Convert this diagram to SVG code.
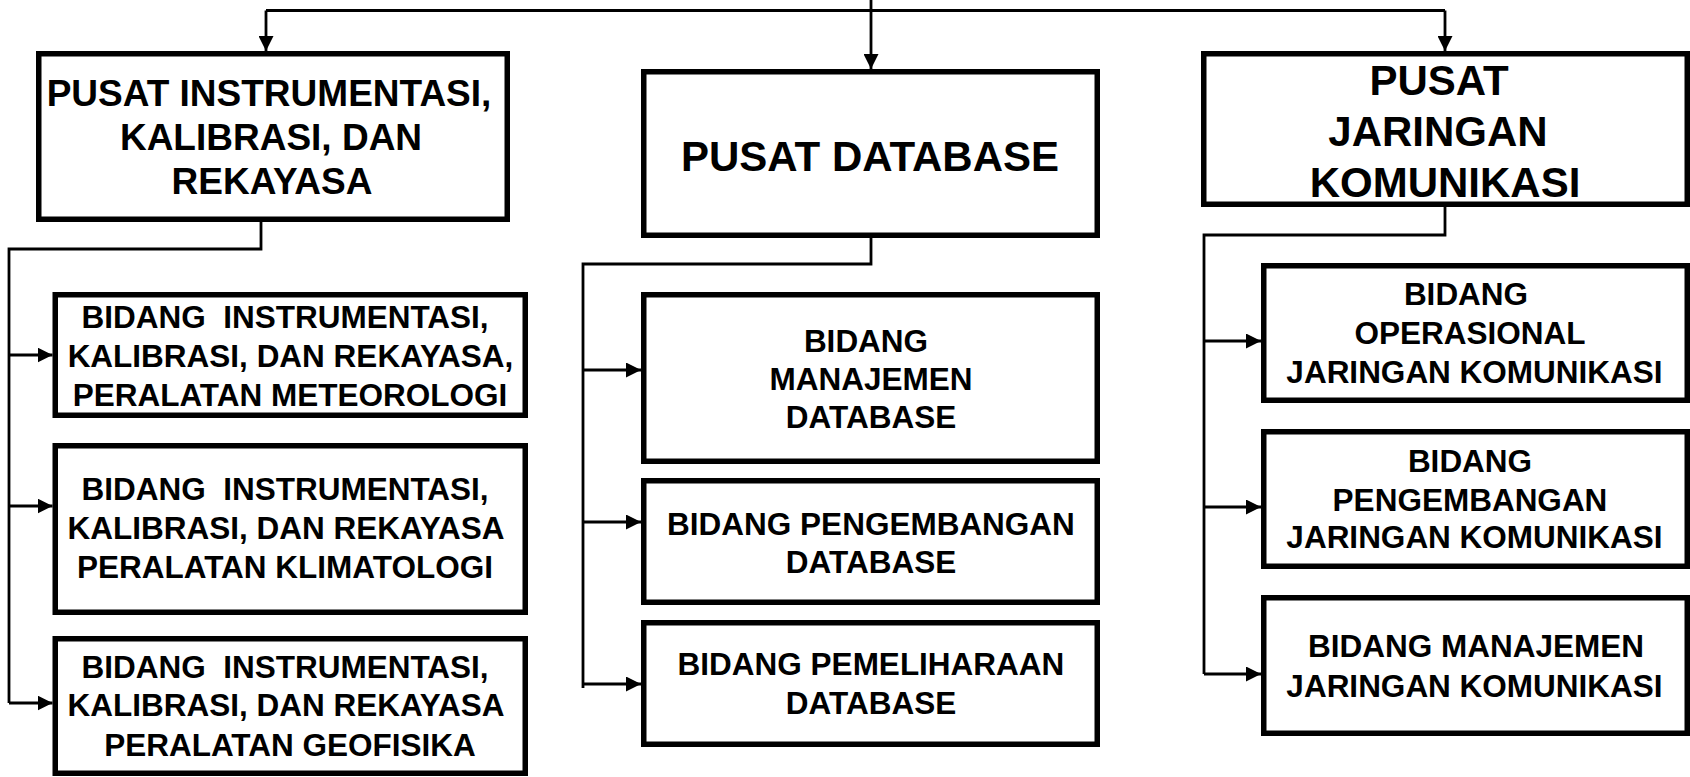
<svg xmlns="http://www.w3.org/2000/svg" width="1690" height="777" viewBox="0 0 1690 777">
<style>
.box{fill:#fff;stroke:#000;stroke-width:5.5}
.t{font-family:"Liberation Sans",Arial,sans-serif;font-weight:bold;text-anchor:middle;fill:#000;white-space:pre}
.s{font-size:31.5px}
.c{fill:none;stroke:#000;stroke-width:2.8}
</style>
<defs>
<marker id="ah" markerUnits="userSpaceOnUse" markerWidth="15" markerHeight="15" refX="15" refY="7.5" orient="auto">
<path d="M0,0 L15,7.5 L0,15 z" fill="#000"/>
</marker>
</defs>
<rect width="1690" height="777" fill="#fff"/>
<g id="connectors">
<path class="c" d="M871,0 V69" marker-end="url(#ah)"/>
<path class="c" d="M266,10.5 H1445"/>
<path class="c" d="M266,10.5 V51" marker-end="url(#ah)"/>
<path class="c" d="M1445,10.5 V51" marker-end="url(#ah)"/>
<path class="c" d="M261,222 V249 H9 V703"/>
<path class="c" d="M9,355 H52.5" marker-end="url(#ah)"/>
<path class="c" d="M9,506 H52.5" marker-end="url(#ah)"/>
<path class="c" d="M9,703 H52.5" marker-end="url(#ah)"/>
<path class="c" d="M871,238 V264 H583 V688"/>
<path class="c" d="M583,370 H641" marker-end="url(#ah)"/>
<path class="c" d="M583,522 H641" marker-end="url(#ah)"/>
<path class="c" d="M583,684 H641" marker-end="url(#ah)"/>
<path class="c" d="M1445,207 V235 H1204 V674"/>
<path class="c" d="M1204,341 H1261" marker-end="url(#ah)"/>
<path class="c" d="M1204,507 H1261" marker-end="url(#ah)"/>
<path class="c" d="M1204,674 H1261" marker-end="url(#ah)"/>
</g>
<g id="pusat-instrumentasi">
<rect class="box" x="38.75" y="53.75" width="468.5" height="165.5"/>
<text class="t" font-size="37" x="269" y="106">PUSAT INSTRUMENTASI,</text>
<text class="t" font-size="37" x="271" y="150">KALIBRASI, DAN</text>
<text class="t" font-size="37" x="272" y="194">REKAYASA</text>
</g>
<g id="pusat-database">
<rect class="box" x="643.75" y="71.75" width="453.5" height="163.5"/>
<text class="t" font-size="42" x="870" y="171">PUSAT DATABASE</text>
</g>
<g id="pusat-jaringan">
<rect class="box" x="1203.75" y="53.75" width="483.5" height="150.5"/>
<text class="t" font-size="42" x="1439" y="95">PUSAT</text>
<text class="t" font-size="42" x="1438" y="146">JARINGAN</text>
<text class="t" font-size="42" x="1445" y="197">KOMUNIKASI</text>
</g>
<g id="bidang-meteorologi">
<rect class="box" x="55.25" y="294.75" width="470" height="120.5"/>
<text class="t s" x="285" y="328">BIDANG  INSTRUMENTASI,</text>
<text class="t s" x="290.5" y="367">KALIBRASI, DAN REKAYASA,</text>
<text class="t s" x="290" y="406">PERALATAN METEOROLOGI</text>
</g>
<g id="bidang-klimatologi">
<rect class="box" x="55.25" y="445.75" width="470" height="166.5"/>
<text class="t s" x="285" y="500">BIDANG  INSTRUMENTASI,</text>
<text class="t s" x="286" y="539">KALIBRASI, DAN REKAYASA</text>
<text class="t s" x="285" y="578">PERALATAN KLIMATOLOGI</text>
</g>
<g id="bidang-geofisika">
<rect class="box" x="55.25" y="638.75" width="470" height="134.5"/>
<text class="t s" x="285" y="678">BIDANG  INSTRUMENTASI,</text>
<text class="t s" x="286" y="716">KALIBRASI, DAN REKAYASA</text>
<text class="t s" x="290" y="756">PERALATAN GEOFISIKA</text>
</g>
<g id="bidang-manajemen-database">
<rect class="box" x="643.75" y="294.75" width="453.5" height="166.5"/>
<text class="t s" x="866" y="352">BIDANG</text>
<text class="t s" x="871" y="390">MANAJEMEN</text>
<text class="t s" x="871" y="428">DATABASE</text>
</g>
<g id="bidang-pengembangan-database">
<rect class="box" x="643.75" y="480.75" width="453.5" height="121.5"/>
<text class="t s" x="871" y="535">BIDANG PENGEMBANGAN</text>
<text class="t s" x="871" y="573">DATABASE</text>
</g>
<g id="bidang-pemeliharaan-database">
<rect class="box" x="643.75" y="622.75" width="453.5" height="121.5"/>
<text class="t s" x="871" y="675">BIDANG PEMELIHARAAN</text>
<text class="t s" x="871" y="714">DATABASE</text>
</g>
<g id="bidang-operasional-jaringan">
<rect class="box" x="1263.75" y="265.75" width="423.5" height="134.5"/>
<text class="t s" x="1466" y="305">BIDANG</text>
<text class="t s" x="1470" y="344">OPERASIONAL</text>
<text class="t s" x="1474.5" y="383">JARINGAN KOMUNIKASI</text>
</g>
<g id="bidang-pengembangan-jaringan">
<rect class="box" x="1263.75" y="431.75" width="423.5" height="134.5"/>
<text class="t s" x="1470" y="472">BIDANG</text>
<text class="t s" x="1470" y="511">PENGEMBANGAN</text>
<text class="t s" x="1474.5" y="548">JARINGAN KOMUNIKASI</text>
</g>
<g id="bidang-manajemen-jaringan">
<rect class="box" x="1263.75" y="597.75" width="423.5" height="135.5"/>
<text class="t s" x="1476" y="657">BIDANG MANAJEMEN</text>
<text class="t s" x="1474.5" y="697">JARINGAN KOMUNIKASI</text>
</g>
</svg>
